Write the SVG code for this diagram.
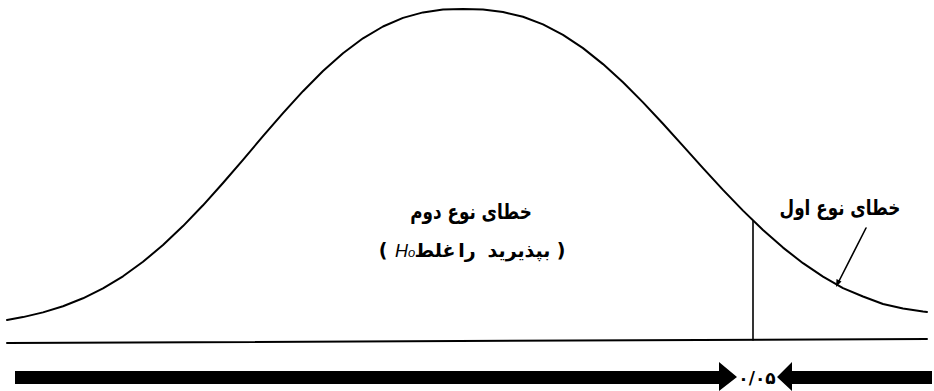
<svg xmlns="http://www.w3.org/2000/svg" width="934" height="391" viewBox="0 0 934 391">
<style>
.ln{fill:none;stroke:#000;stroke-linejoin:round;stroke-linecap:round}
.fa{font-family:"DejaVu Sans",sans-serif;font-weight:bold;fill:#000}
.lat{font-family:"Liberation Sans",sans-serif;font-style:italic;fill:#000}
</style>
<rect width="934" height="391" fill="#fff"/>
<g id="curve">
<path class="ln" stroke-width="2" d="M7,320 L23,317.1 43,312.4 63,306.2 83,298.3 103,288.4 123,276.3 143,261.8 163,245 183,226.1 203,205.3 223,183 243,159.8 263,136.2 283,113.2 303,91.2 323,71 343,53.2 363,38.3 383,26.5 403,17.9 423,12.4 443,9.6 463,9 483,9.6 503,12 523,16.8 543,24.4 563,34.8 583,48.1 603,64.1 623,82.3 643,102.4 663,123.8 683,145.8 703,168.1 723,189.9 743,210.6 763,230 783,247.6 803,263.2 823,276.7 843,288.2 863,296.5 883,304 903,308.5 923,311.5 927,312"/>
</g>
<g id="baseline">
<line class="ln" x1="7" y1="343" x2="927" y2="339" stroke-width="2"/>
</g>
<g id="critical">
<line class="ln" x1="753" y1="221" x2="753" y2="340" stroke-width="1.6"/>
</g>
<g id="label-type2">
<text class="fa" transform="translate(471,219) scale(0.8,1)" font-size="21" text-anchor="middle" direction="rtl">خطای نوع دوم</text>
<text class="fa" x="383" y="257" font-size="19" text-anchor="middle">(</text>
<text class="lat" x="395" y="257" font-size="18">H<tspan font-size="13">o</tspan></text>
<text class="fa" x="435" y="257" font-size="19" text-anchor="middle">غلط</text>
<text class="fa" x="467" y="257" font-size="19" text-anchor="middle">را</text>
<text class="fa" x="519" y="257" font-size="19" text-anchor="middle">بپذیرید</text>
<text class="fa" x="561" y="257" font-size="19" text-anchor="middle">)</text>
</g>
<g id="label-type1">
<text class="fa" transform="translate(840,215) scale(0.8,1)" font-size="21" text-anchor="middle" direction="rtl">خطای نوع اول</text>
</g>
<g id="connectors">
<line class="ln" x1="866" y1="228" x2="838" y2="283" stroke-width="1.6"/>
<polygon points="836,287 836.5,279 841.5,281.5" fill="#000"/>
</g>
<g id="arrows">
<polygon points="15,371 719,371 719,362 737,377 719,391 719,384 15,384" fill="#000"/>
<polygon points="932,371 792,371 792,362 777,377 792,391 792,384 932,384" fill="#000"/>
<text class="fa" x="757" y="384" font-size="17" text-anchor="middle" font-weight="normal">۰/۰۵</text>
</g>
</svg>
